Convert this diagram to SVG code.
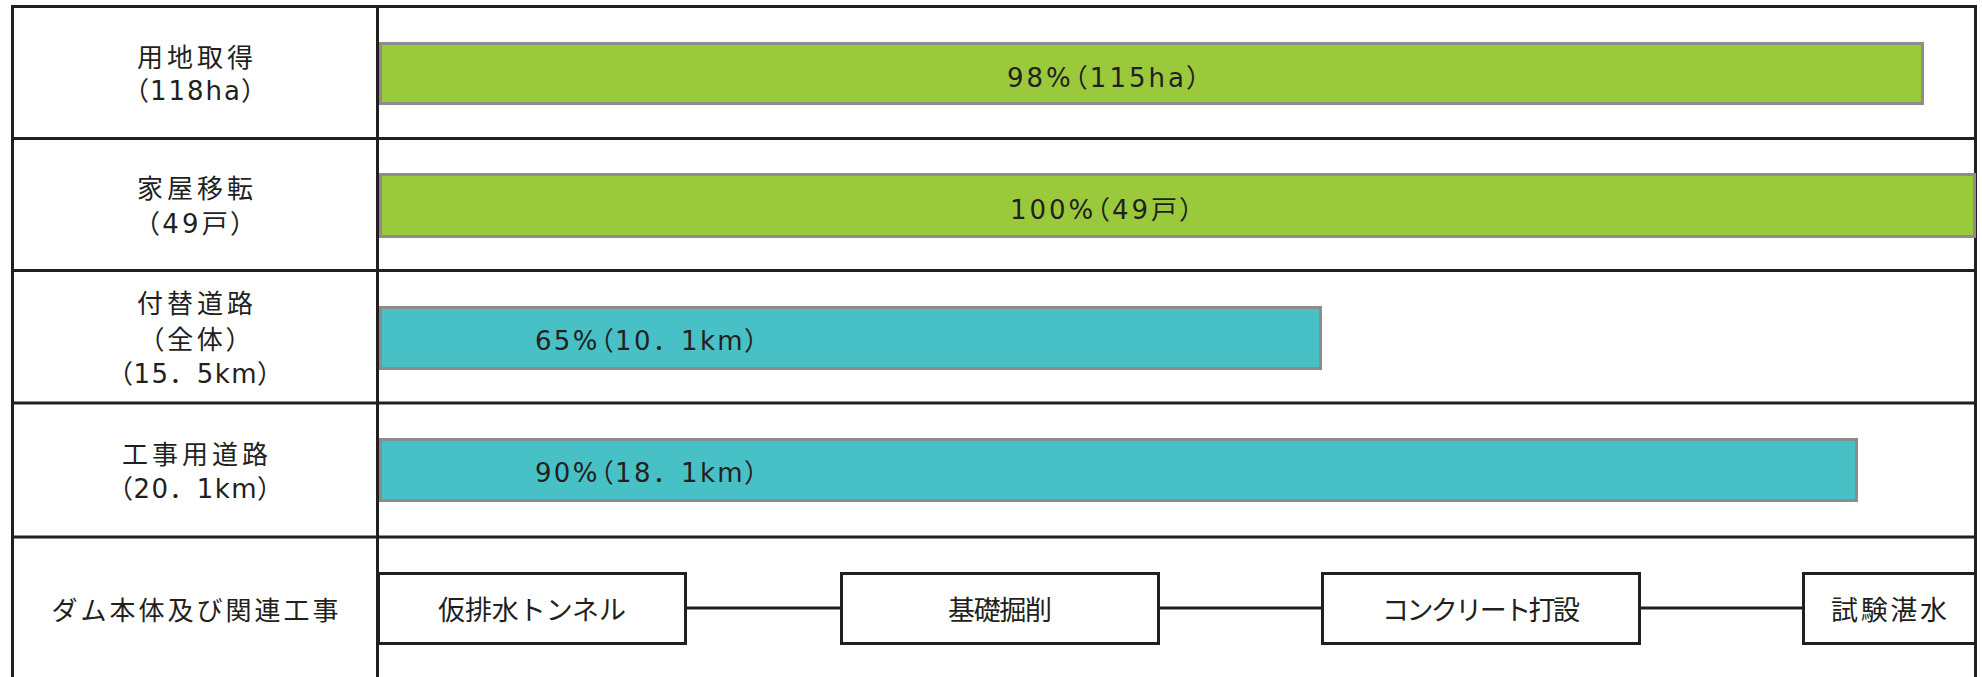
<svg xmlns="http://www.w3.org/2000/svg" width="1982" height="677" viewBox="0 0 1982 677">
<defs>
<style>
.grid{stroke:#231f20;stroke-width:3;fill:none}
.lbl{font-family:"DejaVu Sans","Noto Sans CJK JP",sans-serif;font-size:26px;fill:#231f20;text-anchor:middle}
.p{font-feature-settings:"palt"}
.n{font-feature-settings:normal}
.bartxt{font-family:"DejaVu Sans","Noto Sans CJK JP",sans-serif;font-size:26px;fill:#231f20}
.green{fill:#9aca3c;stroke:#8c8c8c;stroke-width:3}
.teal{fill:#48c1c6;stroke:#8c8c8c;stroke-width:3}
.box{fill:#fff;stroke:#231f20;stroke-width:3}
.boxtxt{font-family:"Noto Sans CJK JP","Noto Sans",sans-serif;font-size:27px;fill:#231f20;text-anchor:middle}
.conn{stroke:#231f20;stroke-width:3;fill:none}
</style>
</defs>
<rect width="1982" height="677" fill="#fff"/>
<g id="frame">
<path class="grid" d="M12.5 677 V6.5 H1975.5 V677 M377.5 6.5 V677 M12.5 138.5 H1975.5 M12.5 270.5 H1975.5 M12.5 403 H1975.5 M12.5 537 H1975.5"/>
</g>
<g id="row-land">
<text class="lbl" x="195" y="66.5" textLength="116" lengthAdjust="spacing">用地取得</text>
<text class="lbl p" x="195" y="99.5" textLength="120" lengthAdjust="spacing">（118ha）</text>
<rect class="green" x="380.5" y="43.5" width="1542" height="60"/>
<text class="bartxt p" x="1007" y="86.5" textLength="193" lengthAdjust="spacing">98%（115ha）</text>
</g>
<g id="row-house">
<text class="lbl" x="195" y="197.5" textLength="116" lengthAdjust="spacing">家屋移転</text>
<text class="lbl p" x="195" y="232.5" textLength="98" lengthAdjust="spacing">（49戸）</text>
<rect class="green" x="380.5" y="174.5" width="1594" height="62"/>
<text class="bartxt p" x="1010" y="218.5" textLength="183" lengthAdjust="spacing">100%（49戸）</text>
</g>
<g id="row-road">
<text class="lbl" x="195" y="312.5" textLength="116" lengthAdjust="spacing">付替道路</text>
<text class="lbl p" x="195" y="348.5" textLength="89" lengthAdjust="spacing">（全体）</text>
<text class="lbl p" x="195" y="382.5" textLength="152" lengthAdjust="spacing">（15<tspan class="n">．</tspan>5km）</text>
<rect class="teal" x="380.5" y="307.5" width="940" height="61"/>
<text class="bartxt p" x="535" y="349.5" textLength="223" lengthAdjust="spacing">65%（10<tspan class="n">．</tspan>1km）</text>
</g>
<g id="row-workroad">
<text class="lbl" x="195" y="463.5" textLength="146" lengthAdjust="spacing">工事用道路</text>
<text class="lbl p" x="195" y="497.5" textLength="152" lengthAdjust="spacing">（20<tspan class="n">．</tspan>1km）</text>
<rect class="teal" x="380.5" y="439.5" width="1476" height="61"/>
<text class="bartxt p" x="535" y="481.5" textLength="223" lengthAdjust="spacing">90%（18<tspan class="n">．</tspan>1km）</text>
</g>
<g id="row-dam">
<text class="lbl" x="195" y="619.5" textLength="287" lengthAdjust="spacing">ダム本体及び関連工事</text>
</g>
<g id="connectors">
<path class="conn" d="M686 608 H841 M1159 608 H1322 M1640 608 H1803"/>
</g>
<g id="box-tunnel">
<rect class="box" x="378.5" y="573.5" width="307" height="70"/>
<text class="boxtxt" x="532" y="620" textLength="188" lengthAdjust="spacing">仮排水トンネル</text>
</g>
<g id="box-excavation">
<rect class="box" x="841.5" y="573.5" width="317" height="70"/>
<text class="boxtxt" x="1000" y="620" textLength="104" lengthAdjust="spacing">基礎掘削</text>
</g>
<g id="box-concrete">
<rect class="box" x="1322.5" y="573.5" width="317" height="70"/>
<text class="boxtxt" x="1481" y="620" textLength="198" lengthAdjust="spacing">コンクリート打設</text>
</g>
<g id="box-impound">
<rect class="box" x="1803.5" y="573.5" width="172" height="70"/>
<text class="boxtxt" x="1889" y="620" textLength="116" lengthAdjust="spacing">試験湛水</text>
</g>
</svg>
